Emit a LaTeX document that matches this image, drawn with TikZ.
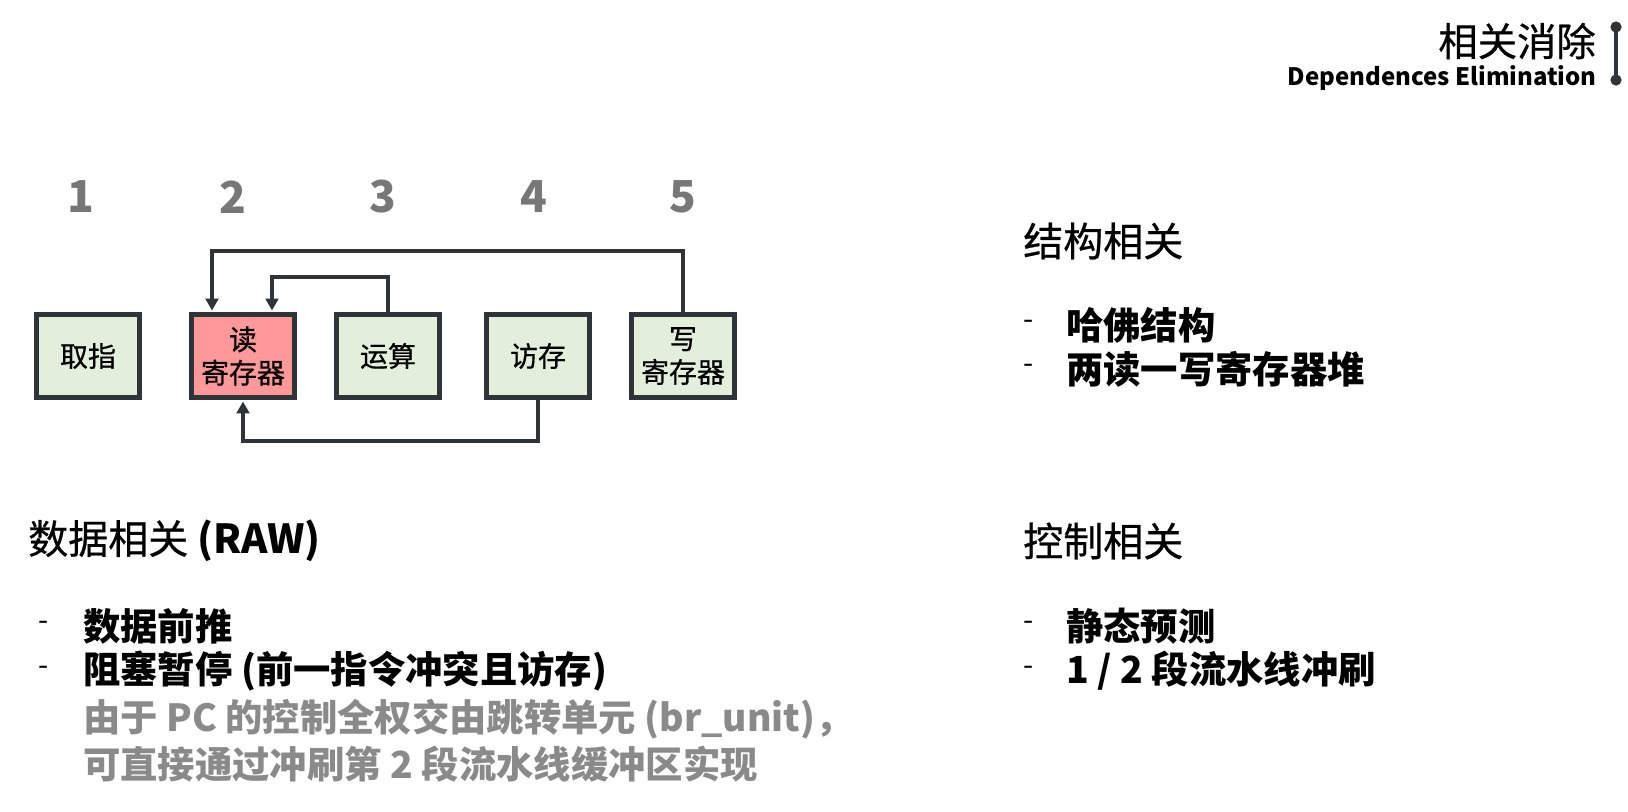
\documentclass[tikz,border=0pt]{standalone}
\usepackage{fontspec}
\newfontfamily\cjk{Noto Sans CJK SC}
\newfontfamily\cjkmed[FakeBold=0.6]{Noto Sans CJK SC}
\usetikzlibrary{arrows.meta}
\definecolor{dark}{HTML}{2F3439}
\definecolor{boxgreen}{HTML}{E2EFDA}
\definecolor{boxred}{HTML}{FF9999}
\definecolor{numgray}{HTML}{777777}
\definecolor{txtgray}{HTML}{8A8A8A}
\begin{document}
\begin{tikzpicture}[x=0.75pt,y=-0.75pt,
  stage/.style={draw=dark, line width=3.8pt, fill=boxgreen, minimum width=77pt, minimum height=62pt, inner sep=0pt, align=center, font=\cjkmed\fontsize{21}{25}\selectfont},
  num/.style={font=\cjk\bfseries\fontsize{33}{36}\selectfont, text=numgray},
  conn/.style={draw=dark, line width=3pt, -{Triangle[length=9pt,width=9.5pt]}, shorten >=1.2pt},
  head/.style={anchor=west, font=\cjkmed\fontsize{30}{36}\selectfont, inner sep=0pt},
  item/.style={anchor=west, font=\cjk\bfseries\fontsize{28}{34}\selectfont, inner sep=0pt},
  note/.style={anchor=west, font=\cjk\bfseries\fontsize{28}{34}\selectfont, inner sep=0pt, text=txtgray},
  bulletmark/.style={anchor=west, font=\cjk\fontsize{22}{26}\selectfont, inner sep=0pt}
]
\useasboundingbox[fill=white] (0,0) rectangle (1628,811);

% title
\node[anchor=east, inner sep=0pt, font=\cjkmed\fontsize{29.5}{34}\selectfont] (title) at (1596,41) {相关消除};
\node[anchor=east, inner sep=0pt, font=\cjk\bfseries\fontsize{18}{22}\selectfont] (subtitle) at (1597,78) {Dependences Elimination};
\coordinate (bt) at (1616,27);
\coordinate (bb) at (1616,80);
\draw[dark, line width=3pt] (bt) -- (bb);
\fill[dark] (bt) circle (4.2pt) (bb) circle (4.2pt);

% stage numbers
\node[num] (n1) at (81,197) {1};
\node[num] (n2) at (233,197) {2};
\node[num] (n3) at (383,197) {3};
\node[num] (n4) at (534,197) {4};
\node[num] (n5) at (683,197) {5};

% stages
\node[stage] (s1) at (88,356) {取指};
\node[stage, fill=boxred] (s2) at (243,356) {读\\寄存器};
\node[stage] (s3) at (388,356) {运算};
\node[stage] (s4) at (538,356) {访存};
\node[stage] (s5) at (683,356) {写\\寄存器};

% forwarding paths
\coordinate (t1) at (212,251);
\coordinate (t2) at (272,277);
\coordinate (t3) at (243,441);
\draw[conn] (s5.north) |- (t1) -- (t1 |- s2.north);
\draw[conn] (s3.north) |- (t2) -- (t2 |- s2.north);
\draw[conn] (s4.south) |- (t3) -- (s2.south);

% right column: structural
\node[head] (h1) at (1023,241) {结构相关};
\node[bulletmark] (d1) at (1023,325) {-};
\node[item] (i1) at (1066,325) {哈佛结构};
\node[bulletmark] (d2) at (1023,369) {-};
\node[item] (i2) at (1066,369) {两读一写寄存器堆};

% right column: control
\node[head] (h2) at (1023,541) {控制相关};
\node[bulletmark] (d3) at (1023,626) {-};
\node[item] (i3) at (1066,626) {静态预测};
\node[bulletmark] (d4) at (1023,671) {-};
\node[item] (i4) at (1066,671) {1 / 2 段流水线冲刷};

% left column: data
\node[head] (h3) at (28,541) {数据相关 {\cjk\bfseries (RAW)}};
\node[bulletmark] (d5) at (38,626) {-};
\node[item] (i5) at (83,626) {数据前推};
\node[bulletmark] (d6) at (38,671) {-};
\node[item] (i6) at (83,671) {阻塞暂停 (前一指令冲突且访存)};
\node[note] (g1) at (83,719) {由于 PC 的控制全权交由跳转单元 (br\_unit)，};
\node[note] (g2) at (83,764) {可直接通过冲刷第 2 段流水线缓冲区实现};
\end{tikzpicture}
\end{document}
